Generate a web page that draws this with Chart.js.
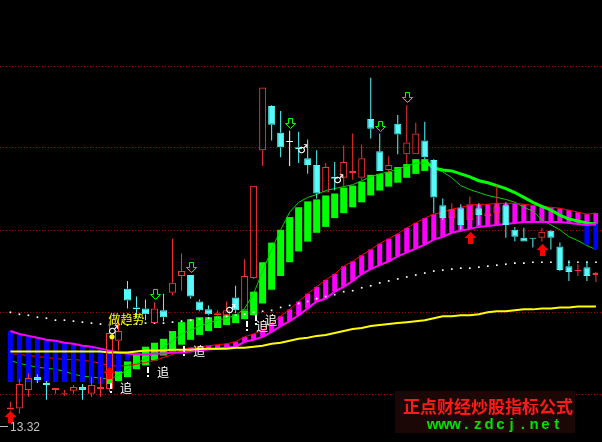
<!DOCTYPE html>
<html>
<head>
<meta charset="utf-8">
<script src="https://cdn.jsdelivr.net/npm/chart.js@4.4.1/dist/chart.umd.min.js"></script>
<style>
  html, body { margin: 0; padding: 0; background: #000; }
  #wrap { width: 602px; height: 442px; }
</style>
</head>
<body>
<div id="wrap"><canvas id="kline" width="602" height="442"></canvas></div>
<script>
// daily K-line, 66 bars (price)
const openP = [
  13.56, 13.57, 13.76, 13.89, 13.83, 13.76, 13.72, 13.75, 13.79, 13.72,
  13.77, 13.77, 14.26, 14.79, 14.60, 14.59, 14.44, 14.57, 14.75, 14.92,
  14.93, 14.66, 14.58, 14.52, 14.52, 14.70, 14.57, 14.90, 16.20, 16.65,
  16.38, 16.29, 16.23, 16.12, 16.05, 15.77, 15.93, 15.92, 15.97, 15.92,
  16.52, 16.19, 16.00, 16.47, 16.16, 16.16, 16.30, 16.10, 15.64, 15.51,
  15.61, 15.49, 15.61, 15.53, 15.56, 15.64, 15.39, 15.31, 15.31, 15.31,
  15.38, 15.22, 15.02, 14.97, 15.01, 14.93
];
const highP = [
  13.64, 13.87, 13.93, 13.92, 13.85, 13.78, 13.76, 13.81, 13.82, 13.89,
  13.89, 14.46, 14.46, 14.87, 14.71, 14.68, 14.65, 14.74, 15.30, 15.15,
  14.93, 14.68, 14.62, 14.57, 14.66, 14.82, 15.09, 15.84, 16.84, 16.66,
  16.60, 16.40, 16.39, 16.31, 16.20, 16.07, 16.08, 16.25, 16.37, 16.26,
  16.94, 16.37, 16.14, 16.56, 16.66, 16.48, 16.49, 16.11, 15.71, 15.66,
  15.65, 15.73, 15.66, 15.62, 15.85, 15.67, 15.42, 15.41, 15.31, 15.41,
  15.39, 15.26, 15.08, 15.04, 15.07, 14.96
];
const lowP = [
  13.55, 13.52, 13.69, 13.83, 13.66, 13.72, 13.70, 13.72, 13.66, 13.69,
  13.69, 13.74, 14.16, 14.59, 14.49, 14.47, 14.44, 14.46, 14.72, 14.77,
  14.69, 14.56, 14.52, 14.49, 14.52, 14.54, 14.57, 14.89, 16.04, 16.30,
  16.13, 16.04, 16.07, 15.96, 15.71, 15.77, 15.79, 15.82, 15.90, 15.90,
  16.32, 15.99, 15.96, 16.16, 16.06, 16.16, 16.11, 15.56, 15.49, 15.42,
  15.39, 15.42, 15.44, 15.46, 15.45, 15.31, 15.27, 15.27, 15.21, 15.27,
  15.19, 14.97, 14.87, 14.92, 14.87, 14.86
];
const closeP = [
  13.58, 13.82, 13.88, 13.86, 13.81, 13.78, 13.73, 13.79, 13.76, 13.81,
  13.79, 14.34, 14.36, 14.67, 14.58, 14.53, 14.59, 14.50, 14.85, 14.97,
  14.71, 14.57, 14.53, 14.54, 14.57, 14.57, 14.92, 15.84, 16.84, 16.46,
  16.23, 16.29, 16.21, 16.05, 15.76, 16.03, 15.91, 16.08, 15.99, 16.12,
  16.42, 15.99, 16.05, 16.36, 16.28, 16.37, 16.13, 15.72, 15.51, 15.60,
  15.44, 15.65, 15.54, 15.56, 15.63, 15.44, 15.32, 15.27, 15.30, 15.37,
  15.31, 14.98, 14.96, 14.98, 14.92, 14.95
];

// indicator lines
const yellowLine = [
  14.15, 14.15, 14.15, 14.15, 14.15, 14.15, 14.15, 14.15, 14.15, 14.15,
  14.15, 14.14, 14.14, 14.14, 14.15, 14.16, 14.16, 14.16, 14.17, 14.17,
  14.17, 14.18, 14.18, 14.18, 14.18, 14.19, 14.19, 14.20, 14.21, 14.23,
  14.24, 14.26, 14.28, 14.29, 14.31, 14.32, 14.34, 14.36, 14.38, 14.39,
  14.41, 14.42, 14.43, 14.44, 14.45, 14.46, 14.47, 14.49, 14.51, 14.51,
  14.52, 14.52, 14.53, 14.55, 14.56, 14.56, 14.57, 14.58, 14.58, 14.59,
  14.59, 14.60, 14.60, 14.61, 14.61, 14.61
];
const redLine = [
  14.13, 14.12, 14.11, 14.10, 14.09, 14.08, 14.07, 14.07, 14.06, 14.05,
  14.03, 14.01, 14.00, 14.01, 14.02, 14.04, 14.06, 14.09, 14.12, 14.17,
  14.19, 14.20, 14.21, 14.22, 14.23, 14.25, 14.30, 14.33, 14.37, 14.44,
  14.51, 14.58, 14.66, 14.74, 14.81, 14.88, 14.94, 15.02, 15.07, 15.13,
  15.19, 15.25, 15.30, 15.35, 15.41, 15.46, 15.51, 15.55, 15.57, 15.60,
  15.62, 15.64, 15.65, 15.65, 15.66, 15.66, 15.66, 15.65, 15.64, 15.63,
  15.62, 15.61, 15.59, 15.57, 15.55, 15.56
];
const magentaLine = [
  14.36, 14.33, 14.31, 14.29, 14.27, 14.26, 14.24, 14.23, 14.21, 14.20,
  14.18, 14.16, 14.14, 14.13, 14.12, 14.12, 14.13, 14.13, 14.14, 14.14,
  14.15, 14.16, 14.17, 14.18, 14.19, 14.20, 14.25, 14.27, 14.30, 14.35,
  14.41, 14.46, 14.52, 14.59, 14.66, 14.69, 14.76, 14.81, 14.87, 14.94,
  14.99, 15.03, 15.07, 15.12, 15.16, 15.20, 15.24, 15.29, 15.32, 15.36,
  15.38, 15.40, 15.42, 15.43, 15.44, 15.45, 15.46, 15.47, 15.47, 15.47,
  15.47, 15.47, 15.46, 15.45, 15.44, 15.45
];
const thinGreen = [
  14.06, 14.03, 14.01, 13.99, 13.98, 13.97, 13.95, 13.92, 13.90, 13.89,
  13.88, 13.87, 13.91, 13.97, 14.03, 14.08, 14.13, 14.19, 14.26, 14.33,
  14.37, 14.41, 14.44, 14.47, 14.49, 14.52, 14.59, 14.74, 14.97, 15.19,
  15.39, 15.57, 15.67, 15.72, 15.75, 15.79, 15.81, 15.83, 15.85, 15.89,
  15.93, 15.96, 15.98, 16.01, 16.04, 16.07, 16.07, 16.02, 15.98, 15.92,
  15.84, 15.80, 15.77, 15.74, 15.72, 15.70, 15.67, 15.62, 15.58, 15.49,
  15.44, 15.39, 15.32, 15.28, 15.23, 15.19
];
const thickGreen = [
  null, null, null, null, null, null, null, null, null, null,
  null, null, null, null, null, null, null, null, null, null,
  null, null, null, null, null, null, null, null, null, null,
  null, null, null, null, null, null, null, null, null, null,
  null, null, null, null, null, null, 16.09, 16.02, 16.00, 15.99,
  15.96, 15.93, 15.89, 15.87, 15.84, 15.81, 15.77, 15.72, 15.67, 15.63,
  15.59, 15.54, 15.50, 15.48, 15.46, 15.45
];
const whiteDots = [
  14.55, 14.53, 14.52, 14.50, 14.49, 14.47, 14.47, 14.46, 14.45, 14.44,
  14.43, 14.42, 14.42, 14.42, 14.43, 14.44, 14.44, 14.44, 14.45, 14.46,
  14.47, 14.48, 14.49, 14.50, 14.51, 14.52, 14.53, 14.55, 14.56, 14.57,
  14.60, 14.62, 14.64, 14.66, 14.69, 14.71, 14.73, 14.76, 14.77, 14.80,
  14.82, 14.85, 14.87, 14.89, 14.91, 14.93, 14.95, 14.97, 14.98, 14.99,
  15.00, 15.00, 15.01, 15.02, 15.03, 15.04, 15.05, 15.05, 15.06, 15.06,
  15.06, 15.06, 15.06, 15.06, 15.06, 15.06
];

// green band (top / bottom)
const greenTop = [
  null, null, null, null, null, null, null, null, null, null,
  null, 13.88, 13.95, 14.05, 14.13, 14.20, 14.24, 14.28, 14.36, 14.45,
  14.48, 14.50, 14.50, 14.51, 14.52, 14.53, 14.57, 14.76, 15.06, 15.26,
  15.39, 15.52, 15.62, 15.68, 15.70, 15.74, 15.76, 15.82, 15.84, 15.88,
  15.95, 15.96, 15.98, 16.03, 16.06, 16.11, 16.11, null, null, null,
  null, null, null, null, null, null, null, null, null, null,
  null, null, null, null, null, null
];
const greenBottom = [
  null, null, null, null, null, null, null, null, null, null,
  null, 13.82, 13.85, 13.89, 13.97, 14.01, 14.06, 14.11, 14.15, 14.22,
  14.27, 14.32, 14.36, 14.39, 14.42, 14.44, 14.48, 14.52, 14.64, 14.78,
  14.92, 15.06, 15.17, 15.27, 15.36, 15.42, 15.51, 15.56, 15.62, 15.67,
  15.74, 15.79, 15.83, 15.87, 15.92, 15.96, 15.99, null, null, null,
  null, null, null, null, null, null, null, null, null, null,
  null, null, null, null, null, null
];
// blue band lower edge (upper edge is the magenta line)
const blueBottom = [
  13.84, 13.84, 13.84, 13.84, 13.84, 13.84, 13.84, 13.84, 13.84, 13.83,
  13.82, 13.88, 13.95, 14.06, null, null, null, null, null, null,
  null, null, null, null, null, null, null, null, null, null,
  null, null, null, null, null, null, null, null, null, null,
  null, null, null, null, null, null, null, null, null, null,
  null, null, null, null, null, null, null, null, null, null,
  null, null, null, null, 15.24, 15.19
];

const gridLevels = [13.72, 14.55, 15.39, 16.23, 17.06];
const lowestLabel = '13.32';

// signal marks
const sellArrowDays = [16, 20, 31, 41, 44];
const buyArrowDays = [0, 11, 51, 59];
const buyArrowAt = [13.54, 13.99, 15.37, 15.25];
const maleDays = [11, 24, 32, 36];
const maleAt = [14.36, 14.57, 16.20, 15.90];
const yellowDotDays = [11];
const yellowDotAt = [14.30];
const chaseDays = [11, 15, 19, 26, 27];
const chaseAt = [13.78, 13.94, 14.16, 14.41, 14.47];
const trendTextDay = 11;
const trendTextAt = 14.48;

const RED = '#ff3232', CYAN = '#54fcfc';
const days = openP.map((_, i) => i);
const pts = arr => days.filter(i => arr[i] != null).map(i => ({ x: i, y: arr[i] }));
const span = (lo, hi) => days.filter(i => lo[i] != null && hi[i] != null).map(i => ({ x: i, y: [lo[i], hi[i]] }));

const candleColor = days.map(i => closeP[i] > openP[i] ? RED : (closeP[i] < openP[i] ? CYAN : '#ffffff'));
const candleFill = days.map(i => closeP[i] > openP[i] ? 'rgba(0,0,0,0)' : candleColor[i]);
const bodyLo = days.map(i => Math.min(openP[i], closeP[i]) - (openP[i] === closeP[i] ? 0.005 : 0));
const bodyHi = days.map(i => Math.max(openP[i], closeP[i]) + (openP[i] === closeP[i] ? 0.005 : 0));
const magLo = days.map(i => redLine[i] > magentaLine[i] ? magentaLine[i] : null);
const magHi = days.map(i => redLine[i] > magentaLine[i] ? redLine[i] : null);
const blueTop = days.map(i => blueBottom[i] != null ? magentaLine[i] : null);

function barSet(data, width, color, order, extra) {
  return Object.assign({
    type: 'bar', data, order, grouped: false,
    barThickness: width, maxBarThickness: width,
    backgroundColor: color, borderWidth: 0, borderSkipped: false, inflateAmount: 0
  }, extra || {});
}
function lineSet(arr, color, width, order) {
  return {
    type: 'line', data: pts(arr), order, borderColor: color, borderWidth: width,
    pointRadius: 0, tension: 0, fill: false
  };
}

const overlay = {
  id: 'overlay',
  beforeDraw(chart) {
    const c = chart.ctx;
    c.save();
    c.fillStyle = '#000';
    c.fillRect(0, 0, chart.width, chart.height);
    c.restore();
  },
  beforeDatasetsDraw(chart) {
    const c = chart.ctx, Y = chart.scales.y;
    c.save();
    c.strokeStyle = '#a00000';
    c.lineWidth = 1;
    c.setLineDash([1, 2]);
    gridLevels.forEach(v => {
      const y = Math.round(Y.getPixelForValue(v)) + 0.5;
      c.beginPath();
      c.moveTo(0, y);
      c.lineTo(chart.width, y);
      c.stroke();
    });
    c.restore();
  },
  afterDatasetsDraw(chart) {
    const c = chart.ctx, X = chart.scales.x, Y = chart.scales.y;
    c.save();

    // hollow green down arrows above the high
    c.strokeStyle = '#00ff00';
    c.lineWidth = 1;
    sellArrowDays.forEach(d => {
      const cx = Math.round(X.getPixelForValue(d)) + 0.5;
      const yb = Math.round(Y.getPixelForValue(highP[d])) - 3 + 0.5;
      c.beginPath();
      c.moveTo(cx - 2, yb - 10); c.lineTo(cx + 2, yb - 10); c.lineTo(cx + 2, yb - 5);
      c.lineTo(cx + 5, yb - 5); c.lineTo(cx, yb); c.lineTo(cx - 5, yb - 5);
      c.lineTo(cx - 2, yb - 5); c.closePath();
      c.stroke();
    });

    // red up arrows
    c.fillStyle = '#ff0000';
    buyArrowDays.forEach((d, k) => {
      const cx = Math.round(X.getPixelForValue(d)) + 0.5;
      const yt = Math.round(Y.getPixelForValue(buyArrowAt[k]));
      c.beginPath();
      c.moveTo(cx, yt); c.lineTo(cx + 6, yt + 6); c.lineTo(cx + 2.5, yt + 6);
      c.lineTo(cx + 2.5, yt + 12); c.lineTo(cx - 2.5, yt + 12); c.lineTo(cx - 2.5, yt + 6);
      c.lineTo(cx - 6, yt + 6); c.closePath();
      c.fill();
    });

    // yellow dot + male signs
    c.fillStyle = '#ffff00';
    yellowDotDays.forEach((d, k) => {
      c.beginPath();
      c.arc(X.getPixelForValue(d) + 2.5, Y.getPixelForValue(yellowDotAt[k]), 2.6, 0, Math.PI * 2);
      c.fill();
    });
    c.fillStyle = '#ffffff';
    c.font = '12px "DejaVu Sans"';
    c.textAlign = 'center';
    c.textBaseline = 'middle';
    maleDays.forEach((d, k) => {
      c.fillText('\u2642', X.getPixelForValue(d) + 4, Y.getPixelForValue(maleAt[k]));
    });

    // "!" + 追 marks
    c.textAlign = 'left';
    c.font = '12px "Noto Sans CJK SC"';
    chaseDays.forEach((d, k) => {
      const x = Math.round(X.getPixelForValue(d)) + 1;
      const y = Math.round(Y.getPixelForValue(chaseAt[k]));
      c.fillRect(x, y - 5, 2, 6);
      c.fillRect(x, y + 3, 2, 2);
      c.fillText('追', x + 10, y);
    });

    // 做趋势
    c.fillStyle = '#ffff00';
    c.font = '12px "Noto Sans CJK SC"';
    c.fillText('做趋势', X.getPixelForValue(trendTextDay) - 1, Y.getPixelForValue(trendTextAt));

    // lowest price label
    c.fillStyle = '#c0c0c0';
    c.fillRect(0, 426, 8, 1);
    c.font = '12px "Liberation Sans"';
    c.fillText(lowestLabel, 10, 428);

    // watermark
    c.fillStyle = '#1c0707';
    c.fillRect(395, 391, 180, 42);
    c.fillStyle = '#ff1a1a';
    c.textAlign = 'center';
    c.font = 'bold 17px "Noto Sans CJK SC"';
    c.fillText('正点财经炒股指标公式', 488, 407);
    c.fillStyle = '#00e000';
    c.font = 'bold 15px "Liberation Sans"';
    const url = 'www.zdcj.net';
    for (let k = 0; k < url.length; k++) {
      c.fillText(url[k], 432.5 + k * 11.3, 425);
    }
    c.restore();
  }
};

new Chart(document.getElementById('kline'), {
  type: 'bar',
  data: {
    datasets: [
      barSet(span(bodyLo, bodyHi), 7, candleFill, 1, { borderWidth: 1, borderColor: candleColor }),
      barSet(span(lowP, bodyLo), 1, candleColor, 2),
      barSet(span(bodyHi, highP), 1, candleColor, 2),
      {
        type: 'line', data: pts(whiteDots), order: 3, showLine: false,
        pointStyle: 'rect', pointRadius: 1.2, pointBorderWidth: 0, pointBackgroundColor: '#ffffff'
      },
      lineSet(yellowLine, '#ffff00', 2, 4),
      lineSet(magentaLine, '#ff00ff', 2, 5),
      lineSet(thickGreen, '#00ff00', 3, 6),
      barSet(span(blueBottom, blueTop), 5, '#0000ff', 7),
      lineSet(redLine, '#ff0000', 1, 8),
      lineSet(thinGreen, '#00d000', 1, 9),
      barSet(span(magLo, magHi), 5, '#ff00ff', 10),
      barSet(span(greenBottom, greenTop), 7, '#00ff00', 11)
    ]
  },
  options: {
    responsive: false,
    animation: false,
    devicePixelRatio: 1,
    events: [],
    layout: { padding: 0 },
    plugins: { legend: { display: false }, tooltip: { enabled: false } },
    scales: {
      x: { type: 'linear', min: -0.71, max: 65.23, offset: false, display: false, grid: { offset: false } },
      y: { min: 13.27, max: 17.69, display: false }
    }
  },
  plugins: [overlay]
});
</script>
</body>
</html>
